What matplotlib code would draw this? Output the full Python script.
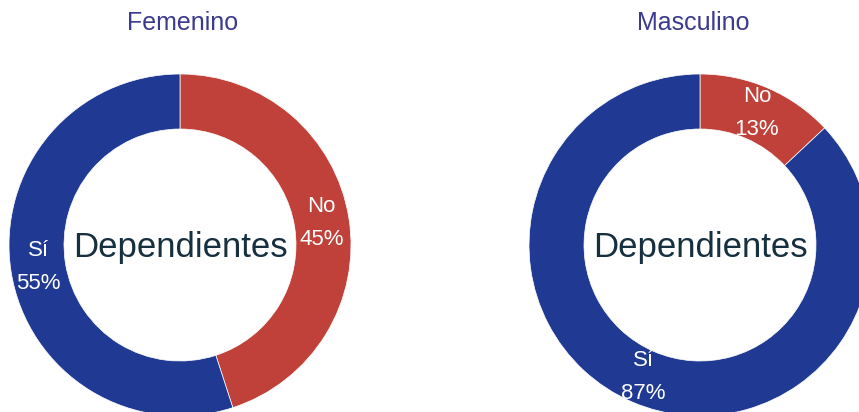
import matplotlib.pyplot as plt

# data
groups = ['Femenino', 'Masculino']
categories = ['No', 'Sí']
shares = [[45, 55], [13, 87]]
center_label = 'Dependientes'

colors = ['#c0413a', '#203a93']

plt.rcParams['font.family'] = ['Liberation Sans', 'DejaVu Sans']

W, H = 859, 412
fig = plt.figure(figsize=(W / 100, H / 100), dpi=100)
ax = fig.add_axes([0, 0, 1, 1])

centers = [(180, H - 245), (700, H - 245)]
title_x = [183, 693]
r_out, r_in = 171, 116

for (cx, cy), tx, name, vals in zip(centers, title_x, groups, shares):
    labels = [f'{c}\n{v}%' for c, v in zip(categories, vals)]
    ax.pie(vals, labels=labels, colors=colors, center=(cx, cy),
           radius=r_out, startangle=90, counterclock=False,
           labeldistance=(r_out + r_in) / 2 / r_out,
           wedgeprops=dict(width=r_out - r_in, edgecolor='white', linewidth=0.5),
           textprops=dict(color='white', fontsize=16, ha='center', va='center',
                          linespacing=1.75),
           frame=True)
    ax.text(cx, cy - 3, center_label, ha='center', va='center', fontsize=25, color='#17303f')
    ax.text(tx, H - 23, name, ha='center', va='center', fontsize=18, color='#3a3a8f')

ax.set_xlim(0, W)
ax.set_ylim(0, H)
ax.set_aspect('equal')
ax.axis('off')

plt.savefig('out.png', dpi=100)
